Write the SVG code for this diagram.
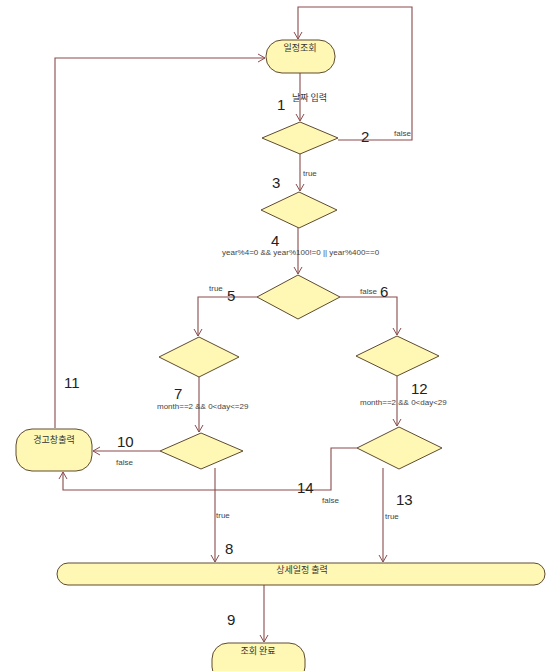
<svg xmlns="http://www.w3.org/2000/svg" width="547" height="671" viewBox="0 0 547 671">
<style>
.n{fill:#fff8b4;stroke:#5e4a30;stroke-width:1}
.e{fill:none;stroke:#8a4b4b;stroke-width:1.1}
.t{font-family:"Noto Sans CJK KR","Noto Sans",sans-serif;font-size:9px;fill:#333}
.s{font-family:"Liberation Sans",Arial,sans-serif;font-size:8px;fill:#444}
.num{font-family:"Liberation Sans",Arial,sans-serif;font-size:15px;fill:#222}
</style>
<defs>
<marker id="a" markerWidth="10" markerHeight="10" refX="8" refY="5" orient="auto" markerUnits="userSpaceOnUse">
<path d="M1,1 L8,5 L1,9" fill="none" stroke="#8a4b4b" stroke-width="1"/>
</marker>
</defs>
<rect width="547" height="671" fill="#fff"/>
<g id="connectors">
<path class="e" d="M300,73 V121" marker-end="url(#a)"/>
<path class="e" d="M338,140 H412 V7 H298 V39" marker-end="url(#a)"/>
<path class="e" d="M300,153 V191" marker-end="url(#a)"/>
<path class="e" d="M298,227 V274" marker-end="url(#a)"/>
<path class="e" d="M257,297 H198 V336" marker-end="url(#a)"/>
<path class="e" d="M340,297 H397 V335" marker-end="url(#a)"/>
<path class="e" d="M199,377 V432" marker-end="url(#a)"/>
<path class="e" d="M397,376 V426" marker-end="url(#a)"/>
<path class="e" d="M160,451 H93" marker-end="url(#a)"/>
<path class="e" d="M357,448 H331 V490 H63 V472" marker-end="url(#a)"/>
<path class="e" d="M215,468 V562" marker-end="url(#a)"/>
<path class="e" d="M383,468 V562" marker-end="url(#a)"/>
<path class="e" d="M55,428 V58 H265" marker-end="url(#a)"/>
<path class="e" d="M264,585 V642" marker-end="url(#a)"/>
</g>
<g id="labels">
<text class="t" x="292" y="101">날짜 입력</text>
<text class="num" x="277" y="110">1</text>
<text class="num" x="361" y="142">2</text>
<text class="s" x="394" y="136">false</text>
<text class="s" x="303" y="176">true</text>
<text class="num" x="272" y="188">3</text>
<text class="num" x="271" y="246">4</text>
<text class="s" x="222" y="255">year%4=0 &amp;&amp; year%100!=0 || year%400==0</text>
<text class="s" x="209" y="291">true</text>
<text class="num" x="227" y="301">5</text>
<text class="s" x="360" y="294">false</text>
<text class="num" x="380" y="297">6</text>
<text class="num" x="174" y="399">7</text>
<text class="s" x="157" y="409">month==2  &amp;&amp;  0&lt;day&lt;=29</text>
<text class="num" x="411" y="394">12</text>
<text class="s" x="360" y="405">month==2 &amp;&amp; 0&lt;day&lt;29</text>
<text class="num" x="64" y="388">11</text>
<text class="num" x="117" y="447">10</text>
<text class="s" x="116" y="465">false</text>
<text class="num" x="297" y="493">14</text>
<text class="s" x="322" y="503">false</text>
<text class="num" x="396" y="505">13</text>
<text class="s" x="216" y="518">true</text>
<text class="s" x="385" y="519">true</text>
<text class="num" x="225" y="554">8</text>
<text class="num" x="227" y="625">9</text>
</g>
<g id="n1"><rect class="n" x="266" y="40" width="69" height="33" rx="16"/><text class="t" x="300" y="51" text-anchor="middle">일정조회</text></g>
<g id="d1"><polygon class="n" points="300,122 338,138 300,154 262,138"/></g>
<g id="d2"><polygon class="n" points="299,192 337,210 299,228 261,210"/></g>
<g id="d3"><polygon class="n" points="298,275 340,297 298,319 257,297"/></g>
<g id="d4"><polygon class="n" points="199,337 239,357 199,377 159,357"/></g>
<g id="d5"><polygon class="n" points="201,433 243,451 201,469 160,451"/></g>
<g id="d6"><polygon class="n" points="397,336 439,356 397,376 356,356"/></g>
<g id="d7"><polygon class="n" points="399,427 442,448 399,469 357,448"/></g>
<g id="n2"><rect class="n" x="16" y="429" width="76" height="42" rx="16"/><text class="t" x="54" y="443" text-anchor="middle">경고창출력</text></g>
<g id="n3"><rect class="n" x="57" y="563" width="488" height="22" rx="11"/><text class="t" x="302" y="573" text-anchor="middle">상세일정 출력</text></g>
<g id="n4"><rect class="n" x="212" y="643" width="93" height="40" rx="16"/><text class="t" x="258" y="654" text-anchor="middle">조회 완료</text></g>
</svg>
